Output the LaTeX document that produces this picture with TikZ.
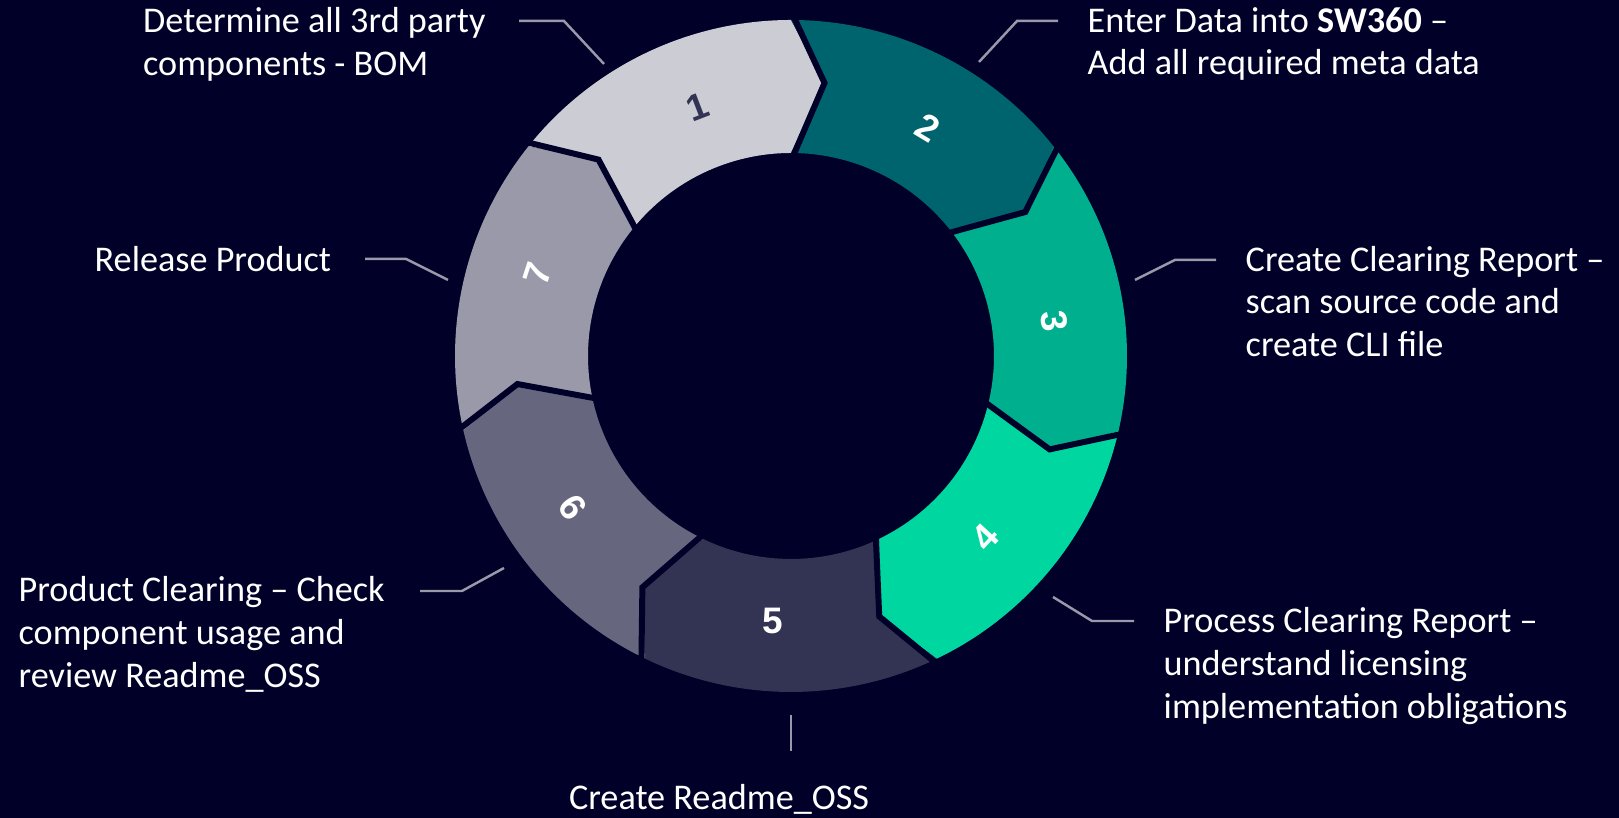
\documentclass[tikz,border=0pt]{standalone}
\usepackage{fontspec}
\setmainfont{Carlito}
\newfontfamily\numfont{Liberation Sans}
\usetikzlibrary{positioning}
\definecolor{deepblue}{HTML}{000028}
\definecolor{dbtwenty}{HTML}{CCCCD4}
\definecolor{dbforty}{HTML}{9999A9}
\definecolor{dbsixty}{HTML}{66667E}
\definecolor{dbeighty}{HTML}{333353}
\definecolor{petrol}{HTML}{00646E}
\definecolor{midgreen}{HTML}{00AF8E}
\definecolor{boldgreen}{HTML}{00D7A0}
\definecolor{leadgray}{HTML}{9999A9}
\tikzset{
  lbl/.style={text=white, font=\fontsize{10.3}{12.2}\selectfont,
    align=left, anchor=west, inner sep=0pt},
  num/.style={font=\numfont\bfseries\fontsize{10.5}{12}\selectfont, inner sep=0pt},
  leader/.style={draw=leadgray, line width=0.7pt},
  gap/.style={draw=deepblue, line width=1.7pt},
}
\def\Ro{3.36}
\def\Ri{2.03}
\def\Rm{2.75}

\begin{document}
\begin{tikzpicture}

% --- Background ---
\fill[deepblue] (0,0) rectangle (16.19,8.18);
\useasboundingbox (0,0) rectangle (16.19,8.18);

% --- Ring of steps ---
\coordinate (ctr) at (7.91,4.62);
\begin{scope}[shift={(ctr)}]
  \foreach \k/\clr in {1/dbtwenty, 2/petrol, 3/midgreen, 4/boldgreen, 5/dbeighty, 6/dbsixty, 7/dbforty}{
    \pgfmathsetmacro\ea{90-51.4286*(\k-1)}
    \pgfmathsetmacro\sa{\ea+51.4286}
    \fill[\clr] (\sa:\Ro) arc[start angle=\sa, end angle=\ea, radius=\Ro]
      -- (\ea-7:\Rm) -- (\ea:\Ri) arc[start angle=\ea, end angle=\sa, radius=\Ri]
      -- (\sa-7:\Rm) -- cycle;
  }
  \foreach \k in {1,...,7}{
    \pgfmathsetmacro\ea{90-51.4286*(\k-1)}
    \draw[gap] (\ea:3.45) -- (\ea-7:\Rm) -- (\ea:1.95);
  }
  % --- Step numbers ---
  \foreach \k/\ang/\rot/\tc in {1/110.5/21/dbeighty, 2/59/-31/white, 3/7.5/-83/white,
      4/-43/47/white, 5/-94/0/white, 6/-145.3/-54/white, 7/162/72/white}{
    \node[num, text=\tc, rotate=\rot] (n\k) at (\ang:2.66) {\k};
  }
\end{scope}

% --- Labels ---
\node[lbl] (l1) at (1.425,7.74) {Determine all 3rd party\\components - BOM};
\node[lbl] (l2) at (10.87,7.74) {Enter Data into \textbf{SW360} –\\Add all required meta data};
\node[lbl] (l3) at (12.45,5.165) {Create Clearing Report –\\scan source code and\\create CLI file};
\node[lbl] (l4) at (11.63,1.52) {Process Clearing Report –\\understand licensing\\implementation obligations};
\node[lbl, anchor=center] (l5) at (7.19,0.19) {Create Readme\_OSS};
\node[lbl] (l6) at (0.18,1.835) {Product Clearing – Check\\component usage and\\review Readme\_OSS};
\node[lbl] (l7) at (0.94,5.59) {Release Product};

% --- Leader lines ---
\coordinate (e1) at (6.04,7.54);
\coordinate (e2) at (9.79,7.56);
\coordinate (e3) at (11.35,5.38);
\coordinate (e4) at (10.53,2.21);
\coordinate (e5) at (7.91,1.03);
\coordinate (e6) at (5.04,2.50);
\coordinate (e7) at (4.48,5.38);
\draw[leader] (e1) -- (5.64,7.97) -- ++(-0.45,0);
\draw[leader] (e2) -- (10.17,7.97) -- ++(0.41,0);
\draw[leader] (e3) -- (11.75,5.58) -- ++(0.41,0);
\draw[leader] (e4) -- (10.92,1.97) -- ++(0.42,0);
\draw[leader] (e5) -- ++(0,-0.36);
\draw[leader] (e6) -- (4.62,2.27) -- ++(-0.42,0);
\draw[leader] (e7) -- (4.06,5.59) -- ++(-0.41,0);

\end{tikzpicture}
\end{document}
